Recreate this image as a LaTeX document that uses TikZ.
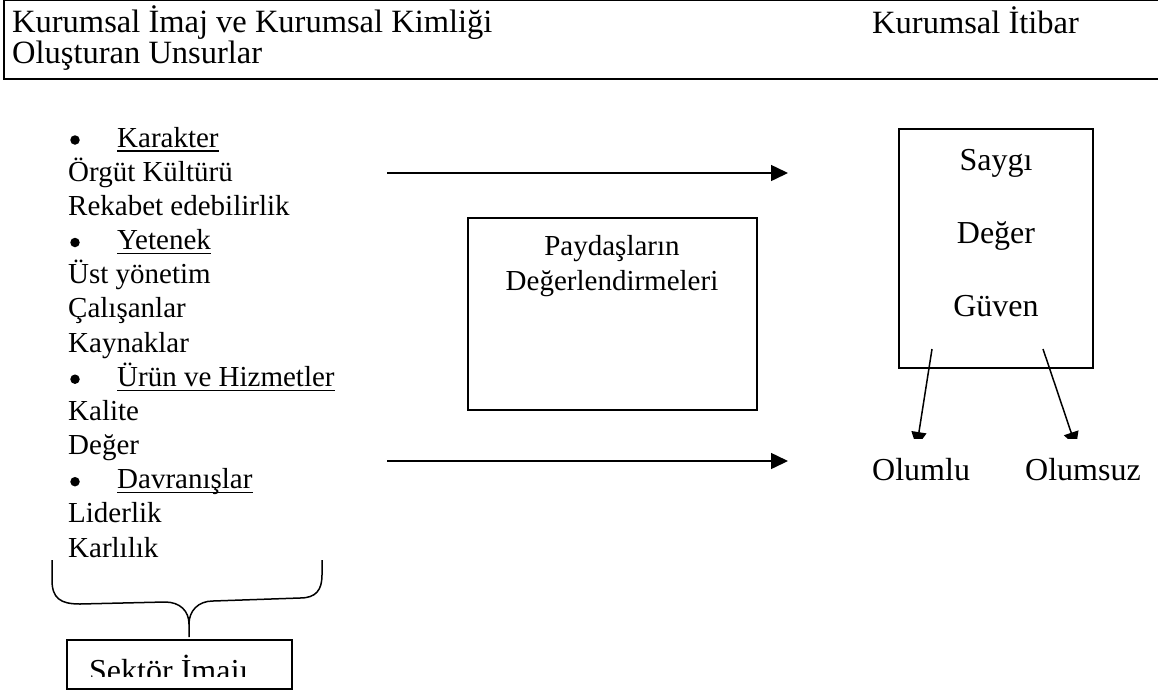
\documentclass[tikz,border=0pt]{standalone}
\usepackage{fontspec}
\setmainfont{Liberation Serif}
\usetikzlibrary{arrows.meta}
\begin{document}
\begin{tikzpicture}[x=1pt,y=-1pt,
  txt/.style={inner sep=0pt, anchor=base west, font=\fontsize{29}{34}\selectfont},
  bigtxt/.style={txt, font=\fontsize{32}{38}\selectfont},
  headtxt/.style={txt, font=\fontsize{32.5}{38}\selectfont},
  ctxt/.style={inner sep=0pt, anchor=base, font=\fontsize{29}{34}\selectfont},
  bigctxt/.style={ctxt, font=\fontsize{32}{38}\selectfont},
  frame/.style={draw, line width=1.6pt},
  box/.style={frame, inner sep=0pt},
  link/.style={line width=1.5pt, -{Triangle[length=17pt,width=16pt]}},
  sublink/.style={line width=1.5pt, -{Triangle[length=15pt,width=15pt]}},
  uline/.style={line width=1.3pt},
  bullet/.style={fill, circle, inner sep=0pt, minimum size=9.5pt},
]
\clip (0,0) rectangle (1158,691);
\fill[white] (0,0) rectangle (1158,691);

% header frame and titles
\draw[frame] (4,0.5) rectangle (1170,79);
\node[headtxt] (h1) at (12,32) {Kurumsal İmaj ve Kurumsal Kimliği};
\node[headtxt] (h2) at (12,63) {Oluşturan Unsurlar};
\node[headtxt] (h3) at (872,33) {Kurumsal İtibar};

% left column: elements of image and identity
\node[bullet] (b0) at (75,140) {};
\node[txt] (k0) at (117,147) {Karakter};
\node[txt] (k1) at (68,181.2) {Örgüt Kültürü};
\node[txt] (k2) at (68,215.3) {Rekabet edebilirlik};
\node[bullet] (b3) at (75,242.5) {};
\node[txt] (k3) at (117,249.5) {Yetenek};
\node[txt] (k4) at (68,283.7) {Üst yönetim};
\node[txt] (k5) at (68,317.9) {Çalışanlar};
\node[txt] (k6) at (68,352) {Kaynaklar};
\node[bullet] (b7) at (75,379.2) {};
\node[txt] (k7) at (117,386.2) {Ürün ve Hizmetler};
\node[txt] (k8) at (68,420.4) {Kalite};
\node[txt] (k9) at (68,454.5) {Değer};
\node[bullet] (b10) at (75,481.7) {};
\node[txt] (k10) at (117,488.7) {Davranışlar};
\node[txt] (k11) at (68,522.9) {Liderlik};
\node[txt] (k12) at (68,557) {Karlılık};

\foreach \k in {k0,k3,k7,k10}
  \draw[uline] ([yshift=-4pt]\k.base west) -- ([yshift=-4pt]\k.base east);

% stakeholder evaluation box
\node[box, minimum width=289pt, minimum height=192pt] (pd) at (612.5,314) {};
\node[ctxt] (pd1) at (612,255) {Paydaşların};
\node[ctxt] (pd2) at (612,290) {Değerlendirmeleri};

% reputation box
\node[box, minimum width=194pt, minimum height=239pt] (rep) at (996,248.5) {};
\node[bigctxt] (r1) at (996,170) {Saygı};
\node[bigctxt] (r2) at (996,243) {Değer};
\node[bigctxt] (r3) at (996,316) {Güven};

\node[bigtxt] (pos) at (872,480) {Olumlu};
\node[bigtxt] (neg) at (1025,480) {Olumsuz};

% horizontal arrows
\coordinate (t1s) at (387,173);
\coordinate (t1e) at (788,173);
\coordinate (t2s) at (387,461);
\coordinate (t2e) at (788,461);
\draw[link] (t1s) -- (t1e);
\draw[link] (t2s) -- (t2e);

% arrows out of the reputation box (heads cut flat)
\coordinate (p1s) at (932,349);
\coordinate (p1e) at (916.6,447);
\coordinate (p2s) at (1043,349);
\coordinate (p2e) at (1076,447);
\begin{scope}
  \clip (850,330) rectangle (1158,438);
  \draw[sublink] (p1s) -- (p1e);
  \draw[sublink] (p2s) -- (p2e);
\end{scope}

% curly brace under the list
\coordinate (brl) at (52,560);
\coordinate (brr) at (322,560);
\coordinate (brt) at (189,637);
\draw[line width=1.5pt] (brl) -- (52,580)
  .. controls (52,598) and (60,604) .. (80,604) -- (165,602)
  .. controls (180,602) and (189,611) .. (189,624) -- (brt);
\draw[line width=1.5pt] (189,624)
  .. controls (189,611) and (198,601) .. (213,601) -- (300,598)
  .. controls (316,598) and (322,590) .. (322,575) -- (brr);

% sector image box with its cut-off label
\node[box, minimum width=225pt, minimum height=49pt] (sk) at (179.5,664.5) {};
\begin{scope}
  \clip (67,640) rectangle (292,676);
  \node[bigtxt] (skt) at (89,681) {Sektör İmajı};
\end{scope}
\end{tikzpicture}
\end{document}
